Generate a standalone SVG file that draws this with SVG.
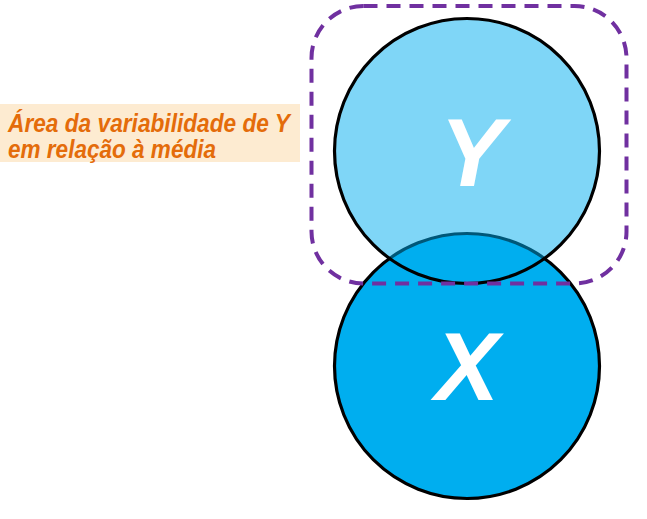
<svg xmlns="http://www.w3.org/2000/svg" width="647" height="519" viewBox="0 0 647 519">
<style>
.lbl{font-family:"Liberation Sans",Arial,sans-serif;font-weight:bold;font-style:italic;fill:#E46C0A;font-size:25px}
.big{font-family:"Liberation Sans",Arial,sans-serif;font-weight:bold;font-style:italic;fill:#FFFFFF;font-size:96px;text-anchor:middle}
.circ{stroke:#000;stroke-width:3.2}
</style>
<rect width="647" height="519" fill="#FFFFFF"/>
<g id="label">
<rect x="0" y="104" width="300" height="58" fill="#FDEBD1"/>
<text class="lbl" x="8" y="132" textLength="282" lengthAdjust="spacingAndGlyphs">Área da variabilidade de Y</text>
<text class="lbl" x="8" y="158" textLength="208" lengthAdjust="spacingAndGlyphs">em relação à média</text>
</g>
<g id="X">
<circle class="circ" cx="467" cy="366" r="132.5" fill="#00AEEF"/>
<text class="big" x="467" y="400">X</text>
</g>
<g id="Y">
<circle class="circ" cx="467" cy="151" r="132.5" fill="#00AEEF" fill-opacity="0.5"/>
<text class="big" x="472" y="186">Y</text>
</g>
<g id="connectors">
<rect x="311.5" y="6" width="315" height="277.5" rx="52" ry="52" fill="none" stroke="#7030A0" stroke-width="4" stroke-dasharray="14 9"/>
</g>
</svg>
